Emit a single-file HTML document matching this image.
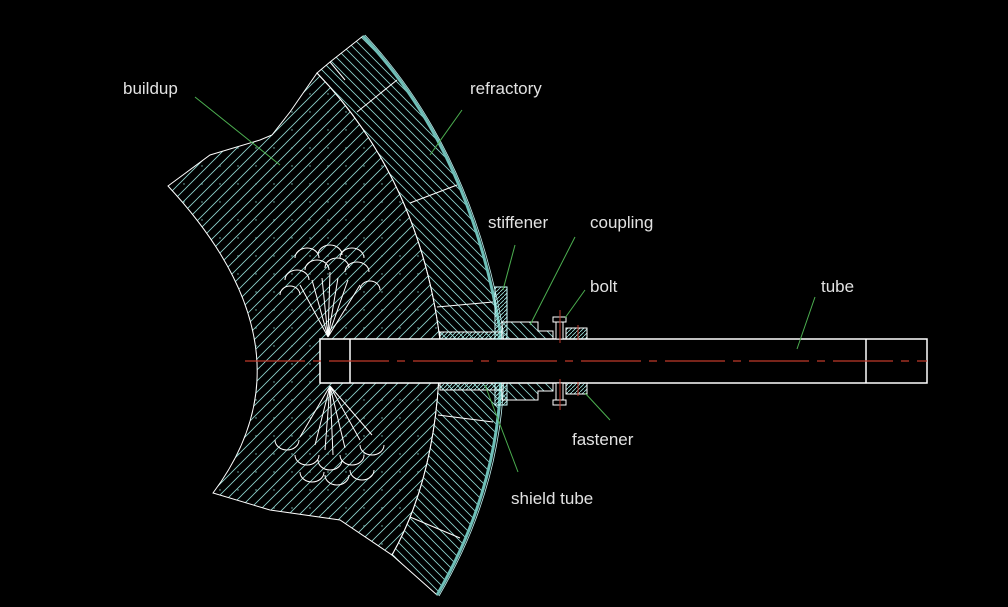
<!DOCTYPE html>
<html><head><meta charset="utf-8"><style>
html,body{margin:0;padding:0;background:#000;}
svg{display:block}
text{font-family:"Liberation Sans",sans-serif;font-size:17px;fill:#e2e2e2;}
</style></head><body>
<svg width="1008" height="607" viewBox="0 0 1008 607" xmlns="http://www.w3.org/2000/svg">
<defs>
<pattern id="h1" width="11" height="11" patternUnits="userSpaceOnUse"><path d="M0,11 L11,0 M-2,2 L2,-2 M9,13 L13,9" stroke="#8fd6d0" stroke-width="0.8"/></pattern>
<pattern id="h2" width="9" height="9" patternUnits="userSpaceOnUse"><path d="M0,0 L9,9 M-2,7 L2,11 M7,-2 L11,2" stroke="#8fd6d0" stroke-width="0.8"/></pattern>
<pattern id="h3" width="4" height="4" patternUnits="userSpaceOnUse"><path d="M0,4 L4,0" stroke="#9fe6e0" stroke-width="0.8"/></pattern>
<pattern id="dots" width="18" height="18" patternUnits="userSpaceOnUse"><circle cx="4" cy="4" r="0.7" fill="#7fbfb9"/></pattern>
</defs>
<path d="M168,186 L210,155 L260,140 L272,135 L290,112 L317,73 Q420,180 440,340 Q440,470 392,555 L340,520 L270,510 L213,493 Q320,350 168,186 Z" fill="url(#h1)" stroke="#fff" stroke-width="1"/>
<path d="M168,186 L210,155 L260,140 L272,135 L290,112 L317,73 Q420,180 440,340 Q440,470 392,555 L340,520 L270,510 L213,493 Q320,350 168,186 Z" fill="url(#dots)"/>
<path d="M317,73 L330,62 L363,36 Q470,150 500,330 Q510,470 437,595 L392,555 Q440,470 440,340 Q420,180 317,73 Z" fill="url(#h2)" stroke="#fff" stroke-width="1"/>
<g stroke="#fff" stroke-width="1">
<line x1="357" y1="112" x2="397" y2="80"/>
<line x1="410" y1="203" x2="457" y2="185"/>
<line x1="437" y1="307" x2="493" y2="302"/>
<line x1="438" y1="415" x2="493" y2="422"/>
<line x1="410" y1="517" x2="460" y2="538"/>
<path d="M330,62 L345,80" fill="none"/>
</g>
<path d="M363,36 Q470,150 500,330 Q510,470 437,595" fill="none" stroke="#6fbfb8" stroke-width="3"/>
<path d="M365,35 Q472,150 503,330 Q513,470 439,596" fill="none" stroke="#bfeeee" stroke-width="0.8"/>
<g stroke="#fff" stroke-width="1" fill="none">
<path d="M328,337 L300,285 M328,337 L312,280 M328,337 L322,278 M328,337 L330,272 M328,337 L338,278 M328,337 L348,280 M328,337 L360,285"/>
<path d="M285,280 a12,10 0 0 1 24,0 M305,270 a12,10 0 0 1 24,0 M325,268 a12,10 0 0 1 24,0 M345,272 a12,10 0 0 1 24,0 M295,258 a12,10 0 0 1 24,0 M318,255 a12,10 0 0 1 24,0 M340,258 a12,10 0 0 1 24,0 M280,295 a10,9 0 0 1 20,0 M360,290 a10,9 0 0 1 20,0"/>
<path d="M330,386 L300,437 M330,386 L315,445 M330,386 L325,450 M330,386 L333,455 M330,386 L345,448 M330,386 L360,440 M330,386 L372,435"/>
<path d="M275,440 a12,10 0 0 0 24,0 M295,455 a12,10 0 0 0 24,0 M318,460 a12,10 0 0 0 24,0 M340,455 a12,10 0 0 0 24,0 M360,445 a12,10 0 0 0 24,0 M300,472 a12,10 0 0 0 24,0 M325,475 a12,10 0 0 0 24,0 M350,470 a12,10 0 0 0 24,0"/>
</g>
<rect x="320" y="339" width="607" height="44" fill="#000" stroke="#fff" stroke-width="1.5"/>
<line x1="350" y1="339" x2="350" y2="383" stroke="#fff" stroke-width="1.5"/>
<line x1="866" y1="339" x2="866" y2="383" stroke="#fff" stroke-width="1.5"/>
<line x1="245" y1="361" x2="927" y2="361" stroke="#c0392b" stroke-width="1.3" stroke-dasharray="60,8,8,8"/>
<g stroke="#fff" stroke-width="1">
<rect x="440" y="332" width="62" height="7" fill="url(#h3)"/>
<rect x="440" y="383" width="62" height="7" fill="url(#h3)"/>
<rect x="495" y="287" width="12" height="52" fill="url(#h3)" stroke="#cff"/>
<rect x="495" y="383" width="12" height="22" fill="url(#h3)" stroke="#cff"/>
<path d="M502,322 L538,322 L538,331 L553,331 L553,339 L502,339 Z" fill="url(#h2)"/>
<path d="M502,400 L538,400 L538,391 L553,391 L553,383 L502,383 Z" fill="url(#h2)"/>
<rect x="553" y="317" width="13" height="5" fill="#000"/>
<rect x="556" y="322" width="7" height="17" fill="#000"/>
<rect x="553" y="400" width="13" height="5" fill="#000"/>
<rect x="556" y="383" width="7" height="17" fill="#000"/>
<rect x="566" y="328" width="21" height="11" fill="url(#h3)"/>
<rect x="566" y="383" width="21" height="11" fill="url(#h3)"/>
</g>
<g stroke="#c0392b" stroke-width="1">
<line x1="560" y1="310" x2="560" y2="343"/><line x1="560" y1="379" x2="560" y2="410"/>
<line x1="578" y1="325" x2="578" y2="340"/><line x1="578" y1="382" x2="578" y2="396"/>
</g>
<g stroke="#4caf50" stroke-width="1">
<line x1="195" y1="97" x2="280" y2="165"/>
<line x1="462" y1="110" x2="430" y2="155"/>
<line x1="515" y1="245" x2="503" y2="290"/>
<line x1="575" y1="237" x2="530" y2="325"/>
<line x1="585" y1="290" x2="565" y2="318"/>
<line x1="815" y1="297" x2="797" y2="349"/>
<line x1="610" y1="420" x2="585" y2="393"/>
<line x1="518" y1="472" x2="485" y2="385"/>
</g>
<text x="123" y="94">buildup</text>
<text x="470" y="94">refractory</text>
<text x="488" y="228">stiffener</text>
<text x="590" y="228">coupling</text>
<text x="590" y="292">bolt</text>
<text x="821" y="292">tube</text>
<text x="572" y="445">fastener</text>
<text x="511" y="504">shield tube</text>
</svg>
</body></html>
